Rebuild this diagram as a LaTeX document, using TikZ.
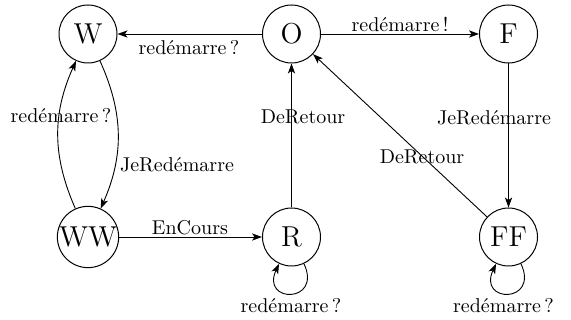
\documentclass[tikz,border=0pt]{standalone}
\usetikzlibrary{arrows.meta}
\begin{document}
\begin{tikzpicture}[x=0.5pt,y=0.5pt,
  state/.style={circle,draw,line width=0.5pt,minimum size=29pt,inner sep=0pt,font=\Large},
  arr/.style={-{Stealth[length=5pt,width=3.6pt,inset=1.3pt]},line width=0.45pt},
  lbl/.style={inner sep=0pt,anchor=base,font=\normalsize}]
\useasboundingbox (0,0) rectangle (571,320);
\node[state] (W)  at (88,286) {W};
\node[state] (O)  at (291.5,286) {O};
\node[state] (F)  at (508.5,286) {F};
\node[state] (WW) at (88,83) {WW};
\node[state] (R)  at (291.5,83) {R};
\node[state] (FF) at (508.5,83) {FF};
% connectors
\draw[arr] (O) -- (W);
\draw[arr] (O) -- (F);
\draw[arr] (F) -- (FF);
\draw[arr] (R) -- (O);
\draw[arr] (FF) -- (O);
\draw[arr] (WW) -- (R);
\draw[arr] (WW) to[bend left=24] (W);
\draw[arr] (W) to[bend left=24] (WW);
\draw[arr] (R.-65) .. controls +(-65:44) and +(-115:44) .. (R.-115);
\draw[arr] (FF.-65) .. controls +(-65:44) and +(-115:44) .. (FF.-115);
% labels
\node[lbl] (l1) at (189,265.5) {redémarre\,?};
\node[lbl] (l2) at (400,288.5) {redémarre\,!};
\node[lbl] (l3) at (190,85) {EnCours};
\node[lbl] (l4) at (303,196) {DeRetour};
\node[lbl] (l5) at (494,195) {JeRedémarre};
\node[lbl] (l6) at (61,197) {redémarre\,?};
\node[lbl] (l7) at (177,148.3) {JeRedémarre};
\node[lbl] (l8) at (422,156.7) {DeRetour};
\node[lbl] (l9) at (291,7) {redémarre\,?};
\node[lbl] (l10) at (503.5,7) {redémarre\,?};
\end{tikzpicture}
\end{document}
